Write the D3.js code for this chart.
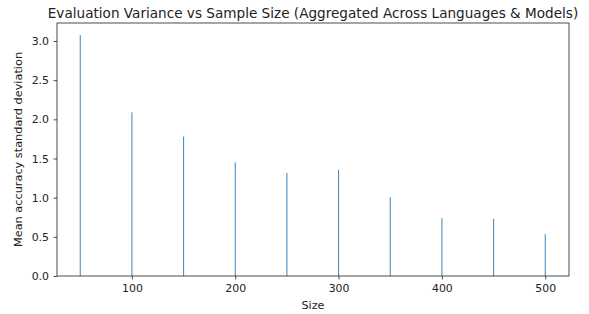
<!DOCTYPE html>
<html><head><meta charset="utf-8">
<script src="https://cdn.jsdelivr.net/npm/d3@7"></script>
<style>body{margin:0;background:#fff}text{font-family:"DejaVu Sans",sans-serif;fill:#222}</style>
</head><body>
<svg id="c" width="589" height="314"></svg>
<script>
const sizes = [50, 100, 150, 200, 250, 300, 350, 400, 450, 500];
const meanStd = [3.075, 2.09, 1.78, 1.45, 1.315, 1.355, 1.005, 0.74, 0.73, 0.535];
const xTicks = [100, 200, 300, 400, 500];
const yTicks = [0, 0.5, 1.0, 1.5, 2.0, 2.5, 3.0];

const svg = d3.select("#c");
const m = {l: 57, r: 20, t: 23, b: 38};
const W = 589, H = 314;
const x = d3.scaleLinear().domain([27.5, 523]).range([m.l, W - m.r]);
const y = d3.scaleLinear().domain([0, 3.23]).range([H - m.b, m.t]);

svg.append("g").selectAll("rect").data(sizes).join("rect")
  .attr("x", (d) => x(d - 0.5))
  .attr("width", (d) => Math.max(1, x(d + 0.5) - x(d - 0.5)))
  .attr("y", (d, i) => y(meanStd[i]))
  .attr("height", (d, i) => y(0) - y(meanStd[i]))
  .attr("fill", "#1f77b4").attr("opacity", 0.85);

const xa = svg.append("g").attr("transform", `translate(0,${H - m.b})`)
  .call(d3.axisBottom(x).tickValues(xTicks).tickFormat(d3.format("d")).tickSizeOuter(0).tickSize(3.5).tickPadding(5));
const ya = svg.append("g").attr("transform", `translate(${m.l},0)`)
  .call(d3.axisLeft(y).tickValues(yTicks).tickFormat(d3.format(".1f")).tickSizeOuter(0).tickSize(3.5).tickPadding(4.5));
[xa, ya].forEach(a => {
  a.select(".domain").remove();
  a.selectAll("text").style("font-size", "10.9px").attr("fill", "#222");
  a.selectAll("line").attr("stroke", "#222").attr("stroke-width", 0.8);
});

svg.append("rect").attr("x", m.l).attr("y", m.t)
  .attr("width", W - m.r - m.l).attr("height", H - m.b - m.t)
  .attr("fill", "none").attr("stroke", "#222").attr("stroke-width", 0.8);

svg.append("text").attr("x", (m.l + W - m.r) / 2).attr("y", 18)
  .attr("text-anchor", "middle").style("font-size", "13.6px")
  .text("Evaluation Variance vs Sample Size (Aggregated Across Languages & Models)");
svg.append("text").attr("x", (m.l + W - m.r) / 2).attr("y", 309)
  .attr("text-anchor", "middle").style("font-size", "11.2px").text("Size");
svg.append("text").attr("transform", `translate(21.5,${(m.t + H - m.b) / 2}) rotate(-90)`)
  .attr("text-anchor", "middle").style("font-size", "11.3px")
  .text("Mean accuracy standard deviation");
</script>
</body></html>
